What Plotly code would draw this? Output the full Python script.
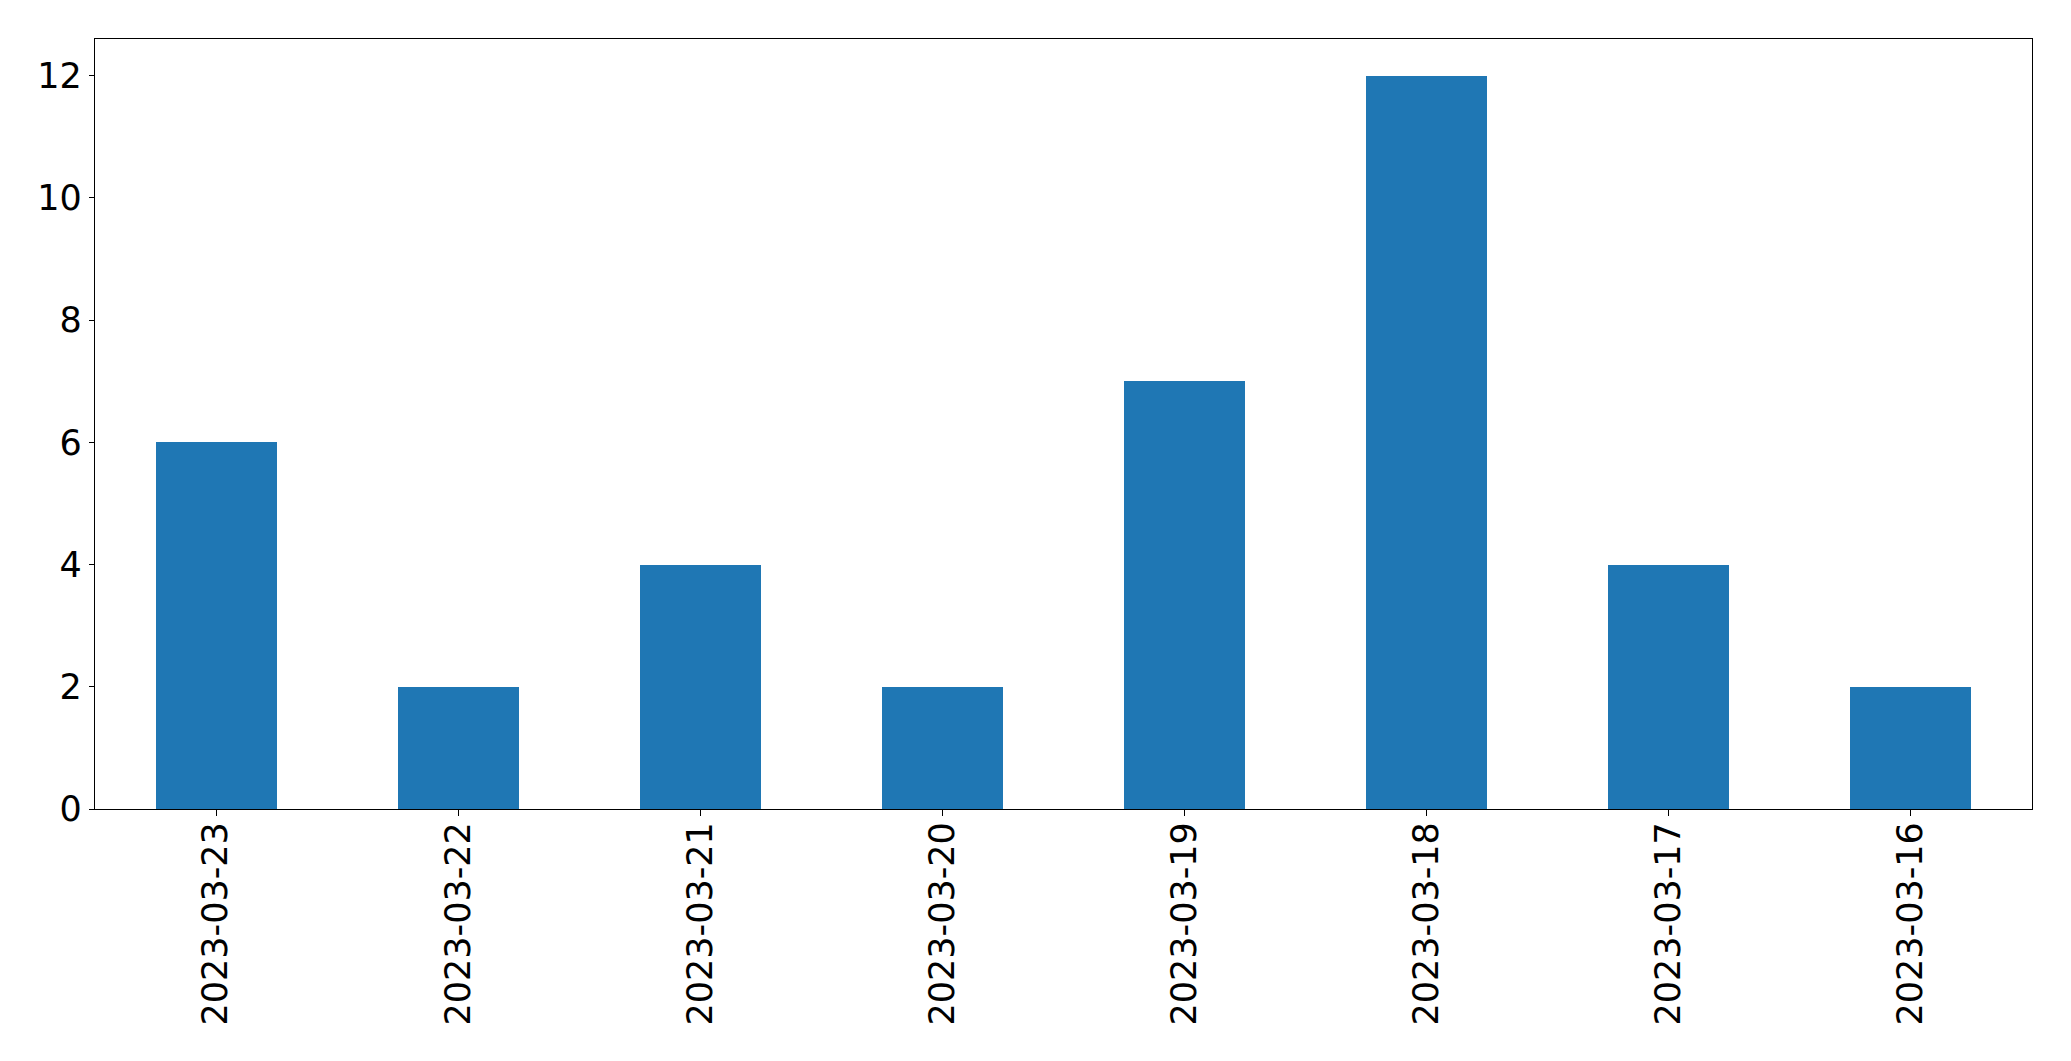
import plotly.graph_objects as go

dates = ["2023-03-23", "2023-03-22", "2023-03-21", "2023-03-20",
         "2023-03-19", "2023-03-18", "2023-03-17", "2023-03-16"]
counts = [6, 2, 4, 2, 7, 12, 4, 2]
y_ticks = [0, 2, 4, 6, 8, 10, 12]

fig = go.Figure(go.Bar(x=dates, y=counts, width=0.5, marker_color="#1f77b4",
                       marker_line_width=0))

# page body has an 8px default margin; compensate so the plot area matches
fig.update_layout(
    width=2063, height=1053,
    margin=dict(l=87, r=39, t=31, b=252, pad=0),
    paper_bgcolor="white", plot_bgcolor="white",
    font=dict(family="DejaVu Sans", size=35, color="black"),
    showlegend=False,
    bargap=0,
)
fig.update_xaxes(
    type="category", range=[-0.5, 7.5], tickangle=-90,
    showline=True, linecolor="black", linewidth=1.3, mirror=True,
    ticks="outside", ticklen=6, tickwidth=1.3, tickcolor="black",
    showgrid=False, zeroline=False, ticklabelstandoff=-8,
)
fig.update_yaxes(
    range=[0, 12.6], tickvals=y_ticks, ticktext=[str(v) for v in y_ticks],
    showline=True, linecolor="black", linewidth=1.3, mirror=True,
    ticks="outside", ticklen=5, tickwidth=1.3, tickcolor="black",
    showgrid=False, zeroline=False,
)

fig.write_html("out.html")
